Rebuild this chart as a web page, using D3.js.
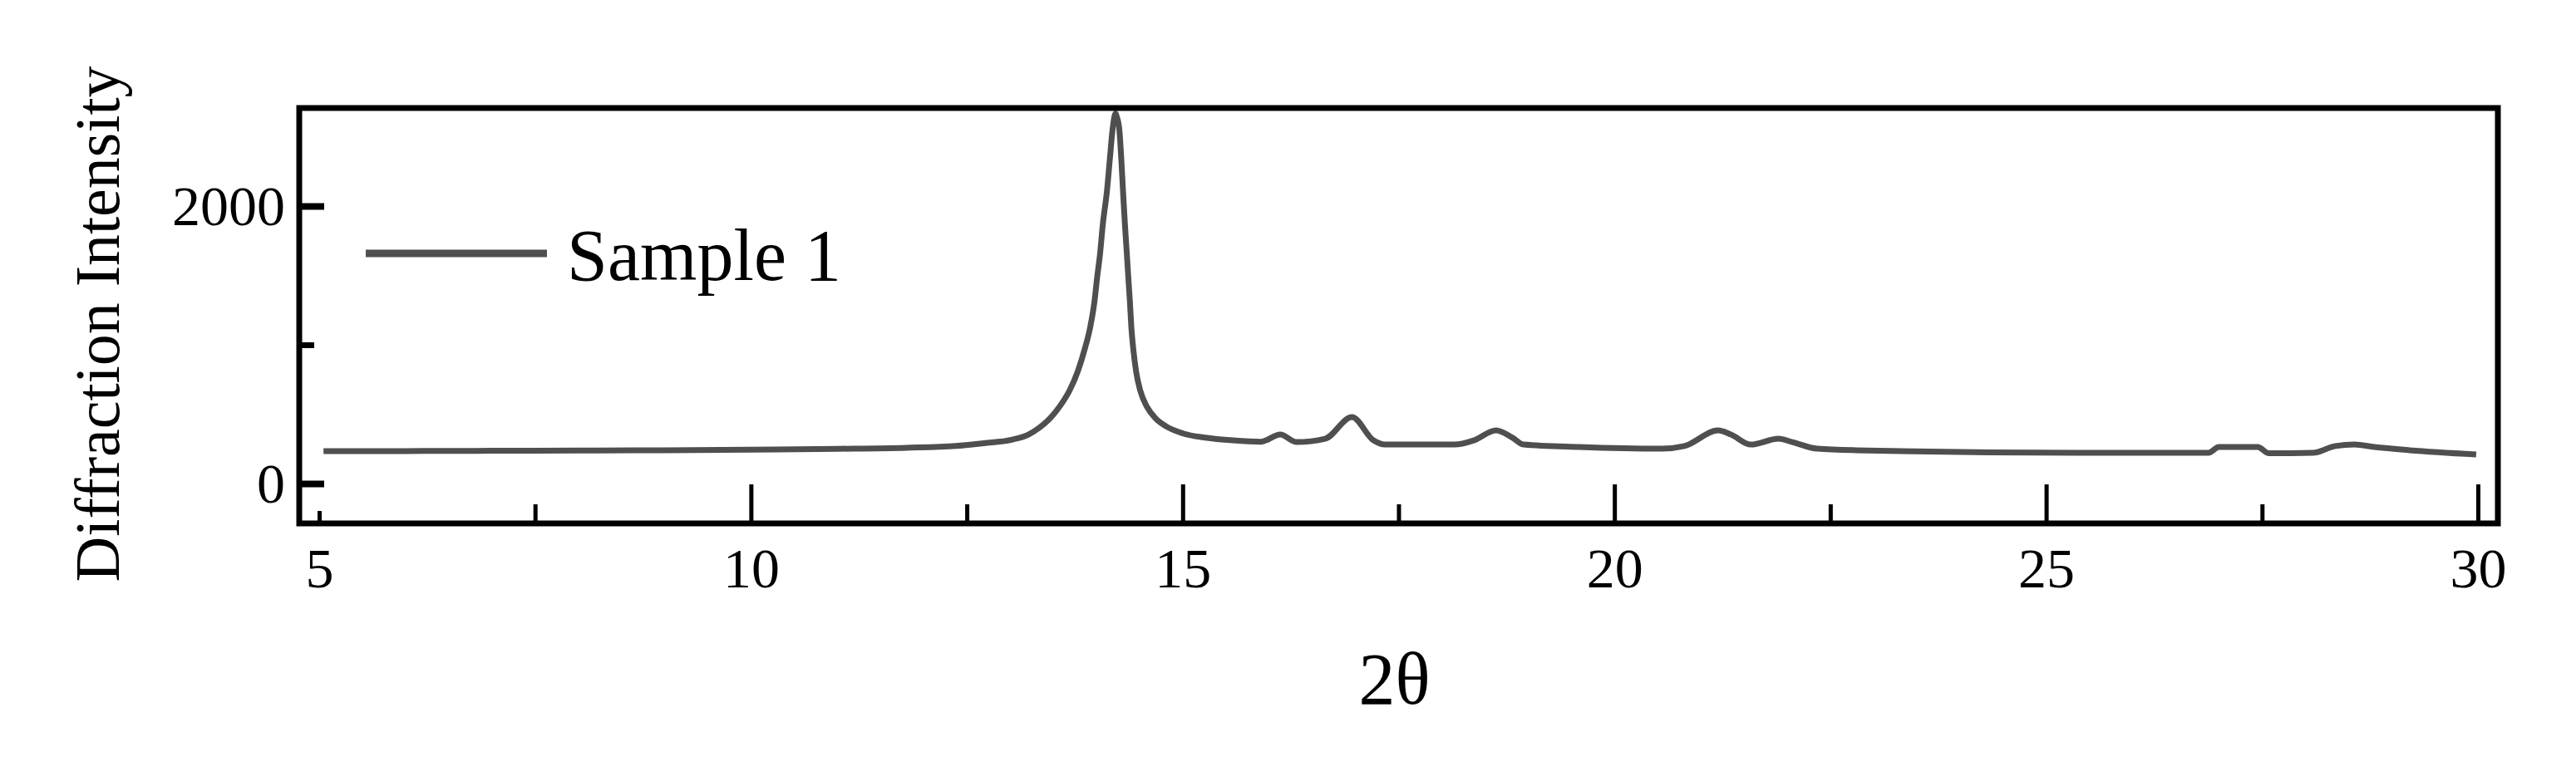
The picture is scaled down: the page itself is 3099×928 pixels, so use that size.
<!DOCTYPE html>
<html>
<head>
<meta charset="utf-8">
<script src="https://cdn.jsdelivr.net/npm/d3@7"></script>
<style>
  html, body { margin: 0; padding: 0; background: #fff; }
  svg { display: block; }
  text { font-family: "Liberation Serif", "Times New Roman", serif; fill: #000; }
</style>
</head>
<body>
<svg id="chart" width="3099" height="928"></svg>
<script>
// ---- Data ----
const twoTheta = [5.05, 6.0, 7.0, 8.0, 9.0, 10.0, 11.0, 11.8, 12.374, 12.695, 13.016, 13.208, 13.337, 13.465,
  13.593, 13.690, 13.786, 13.866, 13.930, 13.978, 14.010, 14.042, 14.075, 14.123, 14.155, 14.187, 14.210,
  14.222, 14.235, 14.267, 14.290, 14.309, 14.331, 14.354, 14.370, 14.389, 14.405, 14.428, 14.460, 14.508,
  14.588, 14.684, 14.812, 15.005, 15.262, 15.583, 15.904,
  16.13, 16.32, 16.65, 16.96, 17.21, 17.34, 18.15, 18.37, 18.63, 18.82, 18.95, 19.59, 20.55, 20.81, 21.20,
  21.35, 21.58, 21.90, 22.06, 22.35, 22.80, 25.37, 26.88, 27.0, 27.45, 27.58, 28.09, 28.35, 28.57, 28.80,
  29.21, 29.98];
const intensity = [234, 234, 236, 238, 240, 244, 250, 258, 271, 291, 315, 351, 401, 471,
  571, 671, 810, 970, 1130, 1310, 1489, 1649, 1868, 2108, 2328, 2547, 2647,
  2667, 2647, 2547, 2328, 2108, 1868, 1649, 1489, 1310, 1130, 970, 810, 671,
  551, 471, 411, 361, 331, 311, 301,
  353, 299, 323, 479, 311, 281, 281, 311, 383, 330, 281, 263, 251, 270, 383,
  353, 281, 323, 299, 251, 240, 222, 222, 263, 263, 218, 222, 270, 281, 263,
  240, 210];
const seriesName = "Sample 1";
const xMajorTicks = [5, 10, 15, 20, 25, 30];
const xMinorTicks = [7.5, 12.5, 17.5, 22.5, 27.5];
const yMajorTicks = [0, 2000];
const yMinorTicks = [1000];
const xTitle = "2\u03b8";
const yTitle = "Diffraction Intensity";

(function () {
// ---- Layout ----
const svg = d3.select("#chart");
const pLeft = 360, pRight = 3005, pTop = 130, pBottom = 630;
const x = d3.scaleLinear().domain([4.769, 30.231]).range([pLeft, pRight]);
const y = d3.scaleLinear().domain([-287.4, 2706.6]).range([pBottom, pTop]);
const lineColor = "#4f4f4f";

// data line
const pts = twoTheta.map((t, i) => ({ t, v: intensity[i] }));
const line = d3.line().x(d => x(d.t)).y(d => y(d.v)).curve(d3.curveMonotoneX);
svg.append("path").datum(pts)
  .attr("d", line)
  .attr("fill", "none")
  .attr("stroke", lineColor)
  .attr("stroke-width", 7)
  .attr("stroke-linejoin", "round");

// x axis major
const gxMaj = svg.append("g").attr("transform", `translate(0,${pBottom})`)
  .call(d3.axisBottom(x).tickValues(xMajorTicks).tickSize(-47).tickFormat(d3.format("d")));
gxMaj.select(".domain").remove();
gxMaj.selectAll(".tick line").attr("stroke", "#000").attr("stroke-width", 5);
gxMaj.selectAll(".tick").filter(d => d === 5).select("line").attr("y2", -15);
gxMaj.selectAll(".tick text").attr("y", 77).attr("dy", 0)
  .style("font-size", "68px").style("font-family", "'Liberation Serif', serif").attr("fill", "#000");

// x axis minor
const gxMin = svg.append("g").attr("transform", `translate(0,${pBottom})`)
  .call(d3.axisBottom(x).tickValues(xMinorTicks).tickSize(-23).tickFormat(""));
gxMin.select(".domain").remove();
gxMin.selectAll(".tick line").attr("stroke", "#000").attr("stroke-width", 5);

// y axis major
const gyMaj = svg.append("g").attr("transform", `translate(${pLeft},0)`)
  .call(d3.axisLeft(y).tickValues(yMajorTicks).tickSize(-30).tickPadding(17).tickFormat(d3.format("d")));
gyMaj.select(".domain").remove();
gyMaj.selectAll(".tick line").attr("stroke", "#000").attr("stroke-width", 8);
gyMaj.selectAll(".tick text").attr("x", -17).attr("dy", "0.33em")
  .style("font-size", "68px").style("font-family", "'Liberation Serif', serif").attr("fill", "#000");

// y axis minor
const gyMin = svg.append("g").attr("transform", `translate(${pLeft},0)`)
  .call(d3.axisLeft(y).tickValues(yMinorTicks).tickSize(-18).tickFormat(""));
gyMin.select(".domain").remove();
gyMin.selectAll(".tick line").attr("stroke", "#000").attr("stroke-width", 7);

// frame
svg.append("rect")
  .attr("x", pLeft).attr("y", pTop)
  .attr("width", pRight - pLeft).attr("height", pBottom - pTop)
  .attr("fill", "none").attr("stroke", "#000").attr("stroke-width", 7);

// legend
svg.append("line")
  .attr("x1", 440).attr("x2", 658).attr("y1", 305).attr("y2", 305)
  .attr("stroke", lineColor).attr("stroke-width", 9);
svg.append("text")
  .attr("x", 682).attr("y", 337)
  .style("font-size", "88px")
  .text(seriesName);

// axis titles
svg.append("text")
  .attr("x", (x(5) + x(30)) / 2 - 5).attr("y", 847)
  .attr("text-anchor", "middle")
  .style("font-size", "88px")
  .text(xTitle);
svg.append("text")
  .attr("transform", `translate(143,390) rotate(-90)`)
  .attr("text-anchor", "middle")
  .style("font-size", "76px")
  .text(yTitle);
})();
</script>
</body>
</html>
